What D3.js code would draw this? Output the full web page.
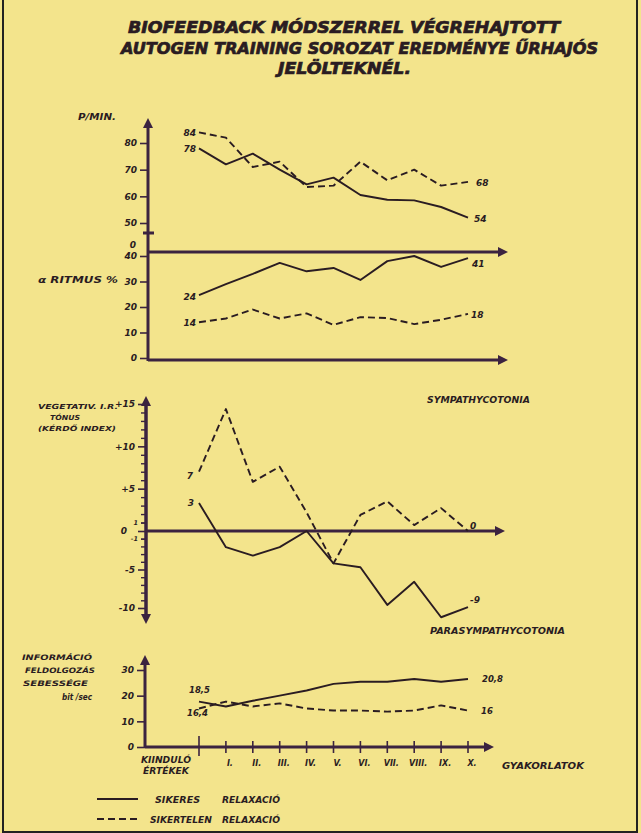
<!DOCTYPE html>
<html><head><meta charset="utf-8">
<script src="https://cdn.jsdelivr.net/npm/d3@7"></script>
<style>
body{margin:0;background:#f3e48c;}
svg{display:block;}
text{font-family:"DejaVu Sans",sans-serif;font-weight:bold;font-style:italic;fill:#2a1c22;}
</style>
</head><body>
<svg id="c" width="641" height="833"></svg>
<script>
// ---- data ----
const categories = ["KIINDULÓ ÉRTÉKEK","I.","II.","III.","IV.","V.","VI.","VII.","VIII.","IX.","X."];
const pulseSuccess = [78,72,76,70,64.5,67,60.5,58.7,58.5,56,52];
const pulseFail    = [84,82,71,73,63.5,64,73,66,70,64,65.4];
const alphaSuccess = [24.7,29,33,37.3,34,35.3,30.6,38,40,35.7,39.2];
const alphaFail    = [14,15.5,19,15.5,17.5,13,16,15.7,13.3,15,17.3];
const vegSuccess   = [3.3,-2.1,-3.2,-2.1,0,-4.2,-4.7,-9.6,-6.6,-11.2,-9.9];
const vegFail      = [7,14.4,5.8,7.6,2.2,-4.2,1.9,3.5,0.7,2.7,0];
const infoSuccess  = [17.7,15.8,18,20,22,24.6,25.4,25.4,26.5,25.4,26.5];
const infoFail     = [15,17.7,15.8,17,15,14.2,14.2,13.8,14.2,16.2,14.2];
const pulseTicks = [50,60,70,80];
const alphaTicks = [0,10,20,30,40];
const vegMajorTicks = [-10,-5,0,5,10,15];
const vegSmallTicks = [-1,1];
const vegTickLabels = {"-10":"-10","-5":"-5","-1":"-1","0":"0","1":"1","5":"+5","10":"+10","15":"+15"};
const infoTicks = [0,10,20,30];

const svg = d3.select("#c");
const INK = "#2a1c22", AXIS = "#3b2340";

// frame
svg.append("rect").attr("x",3).attr("y",-5).attr("width",634).attr("height",837)
  .attr("fill","none").attr("stroke","#222").attr("stroke-width",2);

// ---- scales ----
const x = d3.scalePoint().domain(categories).range([199,468]);
const yPulse = d3.scaleLinear().domain([50,80]).range([223,143]);
const yAlpha = d3.scaleLinear().domain([0,40]).range([358,256]);
const yVeg = d3.scaleLinear().domain([-10,0,15]).range([608,531,404]);
const yInfo = d3.scaleLinear().domain([0,30]).range([747,670]);

function txt(xp,yp,s,size,opt={}){
  const t = svg.append("text").attr("x",xp).attr("y",yp).text(s).style("font-size",size+"px");
  if(opt.anchor) t.attr("text-anchor",opt.anchor);
  if(opt.len){ t.attr("textLength",opt.len).attr("lengthAdjust","spacingAndGlyphs"); }
  if(opt.style) t.style("font-style",opt.style);
  if(opt.heavy) t.attr("stroke","#2a1c22").attr("stroke-width",opt.heavy);
  return t;
}
function arrow(xp,yp,dir){
  const s=5, l=10; let p;
  if(dir==="up") p=[[xp,yp],[xp-s,yp+l],[xp+s,yp+l]];
  else if(dir==="down") p=[[xp,yp],[xp-s,yp-l],[xp+s,yp-l]];
  else p=[[xp,yp],[xp-l,yp-s],[xp-l,yp+s]];
  svg.append("path").attr("d","M"+p.map(d=>d.join(",")).join("L")+"Z").attr("fill",AXIS);
}
function hline(x1,x2,yp,w=3){
  svg.append("line").attr("x1",x1).attr("x2",x2).attr("y1",yp).attr("y2",yp)
    .attr("stroke",AXIS).attr("stroke-width",w);
}
function vline(xp,y1,y2,w=3){
  svg.append("line").attr("x1",xp).attr("x2",xp).attr("y1",y1).attr("y2",y2)
    .attr("stroke",AXIS).attr("stroke-width",w);
}
function yAxis(xp,scale,ticks,fmt,size,tick=8){
  const g = svg.append("g").attr("transform",`translate(${xp},0)`)
    .call(d3.axisLeft(scale).tickValues(ticks).tickFormat(fmt).tickSize(tick).tickPadding(3));
  g.select(".domain").remove();
  g.selectAll(".tick line").attr("stroke",AXIS).attr("stroke-width",1.6);
  g.selectAll(".tick text").style("font-size",size+"px").attr("fill",INK)
    .style("font-family","DejaVu Sans").style("font-weight","bold").style("font-style","italic");
  return g;
}
function series(vals,scale,dashed){
  const line = d3.line().x((d,i)=>x(categories[i])).y(d=>scale(d));
  svg.append("path").attr("d",line(vals)).attr("fill","none").attr("stroke",INK)
    .attr("stroke-width",1.9).attr("stroke-linejoin","round")
    .attr("stroke-dasharray",dashed?"7,4":null);
}

// ---- title ----
txt(128,33,"BIOFEEDBACK  MÓDSZERREL  VÉGREHAJTOTT",16,{len:432,heavy:0.7});
txt(121,54,"AUTOGEN TRAINING  SOROZAT  EREDMÉNYE  ŰRHAJÓS",16,{len:477,heavy:0.7});
txt(278,74,"JELÖLTEKNÉL.",16,{len:133,heavy:0.7});

// ---- panel 1: pulse + alpha ----
vline(148,124,361);
arrow(148,118,"up");
hline(143,154,233,3);
hline(148,500,252);
arrow(508,252,"right");
hline(148,500,360);
arrow(508,360,"right");
yAxis(148,yPulse,pulseTicks,d=>d,9);
yAxis(148,yAlpha,alphaTicks,d=>d,9);
txt(136,248,"0",9,{anchor:"end"});
txt(78,120,"P/MIN.",8,{len:38});
txt(38,283,"α  RITMUS %",8,{len:80});

series(pulseSuccess,yPulse,false);
series(pulseFail,yPulse,true);
series(alphaSuccess,yAlpha,false);
series(alphaFail,yAlpha,true);
txt(196,136,"84",9,{anchor:"end"});
txt(196,152,"78",9,{anchor:"end"});
txt(476,186,"68",9);
txt(474,222,"54",9);
txt(196,300,"24",9,{anchor:"end"});
txt(196,326,"14",9,{anchor:"end"});
txt(472,267,"41",9);
txt(471,318,"18",9);

// ---- panel 2: vegetative tone ----
vline(146,404,616,3.5);
arrow(146,396,"up");
arrow(146,624,"down");
hline(146,497,531);
arrow(505,531,"right");
{
  const minor = d3.range(-10,16).filter(v=>!vegMajorTicks.includes(v));
  const g = svg.append("g").attr("transform","translate(146,0)")
    .call(d3.axisLeft(yVeg).tickValues(minor).tickFormat("").tickSize(5));
  g.select(".domain").remove();
  g.selectAll(".tick line").attr("stroke",AXIS).attr("stroke-width",1.4);
}
{
  const g = yAxis(146,yVeg,vegMajorTicks,d=>vegTickLabels[d],9);
  g.selectAll(".tick").filter(d=>d===0).select("text").attr("dx",-8);
  const s = yAxis(146,yVeg,vegSmallTicks,d=>vegTickLabels[d],6.5,5);
  s.selectAll(".tick line").attr("stroke-width",1.4);
}
txt(38,409,"VEGETATIV. I.R.",7,{len:80});
txt(50,420,"TÓNUS",7,{len:30});
txt(38,431,"(KÉRDŐ INDEX)",7,{len:78});
txt(427,403,"SYMPATHYCOTONIA",8.5,{len:103});
txt(430,634,"PARASYMPATHYCOTONIA",8.5,{len:135});

series(vegSuccess,yVeg,false);
series(vegFail,yVeg,true);
txt(193,479,"7",9,{anchor:"end"});
txt(194,506,"3",9,{anchor:"end"});
txt(470,529,"0",9);
txt(470,603,"-9",9);

// ---- panel 3: information processing ----
vline(145,662,748,3);
arrow(145,655,"up");
hline(145,486,747);
arrow(494,747,"right");
yAxis(145,yInfo,infoTicks,d=>d,9);
svg.append("g").selectAll("line").data(categories).join("line")
  .attr("x1",d=>x(d)).attr("x2",d=>x(d))
  .attr("y1",(d,i)=>i===0?736:741).attr("y2",(d,i)=>i===0?756:753)
  .attr("stroke",AXIS).attr("stroke-width",1.6);
svg.append("g").selectAll("text").data(categories.slice(1)).join("text")
  .attr("x",d=>x(d)+4).attr("y",766).attr("text-anchor","middle")
  .style("font-size","8px").text(d=>d);
txt(141,763,"KIINDULÓ",8,{len:50});
txt(143,774,"ÉRTÉKEK",8,{len:46});
txt(502,769,"GYAKORLATOK",8,{len:82});
txt(22,660,"INFORMÁCIÓ",7.5,{len:70});
txt(25,673,"FELDOLGOZÁS",7.5,{len:70});
txt(23,686,"SEBESSÉGE",7.5,{len:65});
txt(62,700,"bit /sec",8,{len:30});

series(infoSuccess,yInfo,false);
series(infoFail,yInfo,true);
txt(189,693,"18,5",8.5);
txt(187,716,"16,4",8.5);
txt(482,682,"20,8",8.5);
txt(481,714,"16",8.5);

// ---- legend ----
svg.append("line").attr("x1",97).attr("x2",138).attr("y1",799).attr("y2",799)
  .attr("stroke",INK).attr("stroke-width",1.9);
svg.append("line").attr("x1",97).attr("x2",138).attr("y1",819).attr("y2",819)
  .attr("stroke",INK).attr("stroke-width",1.9).attr("stroke-dasharray","7,4");
txt(155,803,"SIKERES",8.5,{len:45});
txt(222,803,"RELAXACIÓ",8.5,{len:58});
txt(150,823,"SIKERTELEN",8.5,{len:62});
txt(222,823,"RELAXACIÓ",8.5,{len:58});
</script>
</body></html>
